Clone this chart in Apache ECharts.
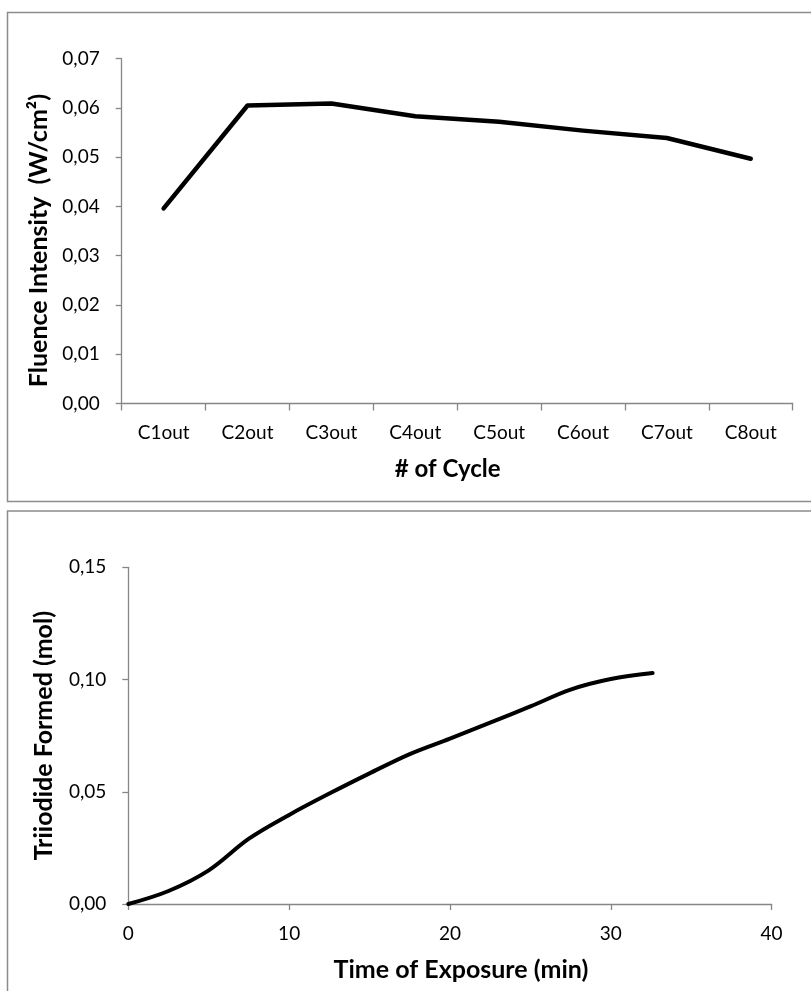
<!DOCTYPE html>
<html>
<head>
<meta charset="utf-8">
<script src="https://cdn.jsdelivr.net/npm/echarts@6/dist/echarts.min.js"></script>
<style>
  html, body { margin: 0; padding: 0; background: #fff; }
  #chart { width: 811px; height: 991px; }
</style>
</head>
<body>
<div id="chart"></div>
<script>
// ---- Data ----
const cycleCategories = ['C1out', 'C2out', 'C3out', 'C4out', 'C5out', 'C6out', 'C7out', 'C8out'];
const fluenceValues = [0.0396, 0.0605, 0.0609, 0.0583, 0.0572, 0.0554, 0.0539, 0.0497];

const exposureTimes = [0, 2.5, 5, 7.5, 10, 12.5, 15, 17.5, 20, 22.5, 25, 27.5, 30, 32.6];
const triiodideValues = [0, 0.0058, 0.0150, 0.0291, 0.0397, 0.0492, 0.0582, 0.0668, 0.0737, 0.0808, 0.0880, 0.0955, 0.1002, 0.1029];

const fluenceTicks = { min: 0, max: 0.07, interval: 0.01 };
const triiodideTicks = { min: 0, max: 0.15, interval: 0.05 };
const timeTicks = { min: 0, max: 40, interval: 10 };

// ---- Styles ----
const FONT = 'Lato, "Open Sans", sans-serif';
const AXIS_COLOR = '#868686';
const commaFmt = v => v.toFixed(2).replace('.', ',');

const axisLine = { show: true, lineStyle: { color: AXIS_COLOR, width: 1.3 } };
const axisTick = { show: true, length: 6, lineStyle: { color: AXIS_COLOR, width: 1.3 } };
const labelStyle = { color: '#000', fontFamily: FONT, fontSize: 19 };
const nameStyle = { color: '#000', fontFamily: FONT, fontSize: 24, fontWeight: 'bold' };

const chart = echarts.init(document.getElementById('chart'), null, { renderer: 'canvas' });

const option = {
  backgroundColor: '#fff',
  animation: false,
  graphic: [
    { type: 'rect', silent: true, shape: { x: 7.5, y: 12.5, width: 830, height: 489 },
      style: { fill: 'none', stroke: '#8c8c8c', lineWidth: 1.5 } },
    { type: 'rect', silent: true, shape: { x: 7.5, y: 511, width: 830, height: 520 },
      style: { fill: 'none', stroke: '#8c8c8c', lineWidth: 1.5 } }
  ],
  grid: [
    { left: 121.7, top: 58.7, width: 671, height: 344.8, containLabel: false },
    { left: 128.3, top: 567.3, width: 643.3, height: 336.7, containLabel: false }
  ],
  xAxis: [
    {
      type: 'category', gridIndex: 0, data: cycleCategories, boundaryGap: true,
      axisLine, axisTick: { ...axisTick, length: 7, alignWithLabel: false },
      axisLabel: { ...labelStyle, margin: 20, interval: 0 },
      splitLine: { show: false },
      name: '# of Cycle', nameLocation: 'middle', nameGap: 54,
      nameTextStyle: { ...nameStyle, padding: [0, 19, 0, 0] }
    },
    {
      type: 'value', gridIndex: 1, min: timeTicks.min, max: timeTicks.max, interval: timeTicks.interval,
      axisLine, axisTick,
      axisLabel: { ...labelStyle, margin: 20 },
      splitLine: { show: false },
      name: 'Time of Exposure (min)', nameLocation: 'middle', nameGap: 53,
      nameTextStyle: { ...nameStyle, fontSize: 25, padding: [0, 0, 0, 22] }
    }
  ],
  yAxis: [
    {
      type: 'value', gridIndex: 0, min: fluenceTicks.min, max: fluenceTicks.max, interval: fluenceTicks.interval,
      axisLine, axisTick,
      axisLabel: { ...labelStyle, margin: 22, formatter: commaFmt },
      splitLine: { show: false },
      name: 'Fluence Intensity  (W/cm²)', nameLocation: 'middle', nameGap: 67, nameRotate: 90,
      nameTextStyle: { ...nameStyle, fontSize: 25, padding: [0, 19, 0, 0] }
    },
    {
      type: 'value', gridIndex: 1, min: triiodideTicks.min, max: triiodideTicks.max, interval: triiodideTicks.interval,
      axisLine, axisTick,
      axisLabel: { ...labelStyle, margin: 22, formatter: commaFmt },
      splitLine: { show: false },
      name: 'Triiodide Formed (mol)', nameLocation: 'middle', nameGap: 72, nameRotate: 90,
      nameTextStyle: { ...nameStyle, fontSize: 25 }
    }
  ],
  series: [
    {
      type: 'line', xAxisIndex: 0, yAxisIndex: 0, data: fluenceValues,
      showSymbol: false, smooth: false,
      lineStyle: { color: '#000', width: 4.5, cap: 'round', join: 'round' }
    },
    {
      type: 'line', xAxisIndex: 1, yAxisIndex: 1,
      data: exposureTimes.map((t, i) => [t, triiodideValues[i]]),
      showSymbol: false, smooth: 0.35,
      lineStyle: { color: '#000', width: 4, cap: 'round', join: 'round' }
    }
  ]
};

chart.setOption(option);
</script>
</body>
</html>
